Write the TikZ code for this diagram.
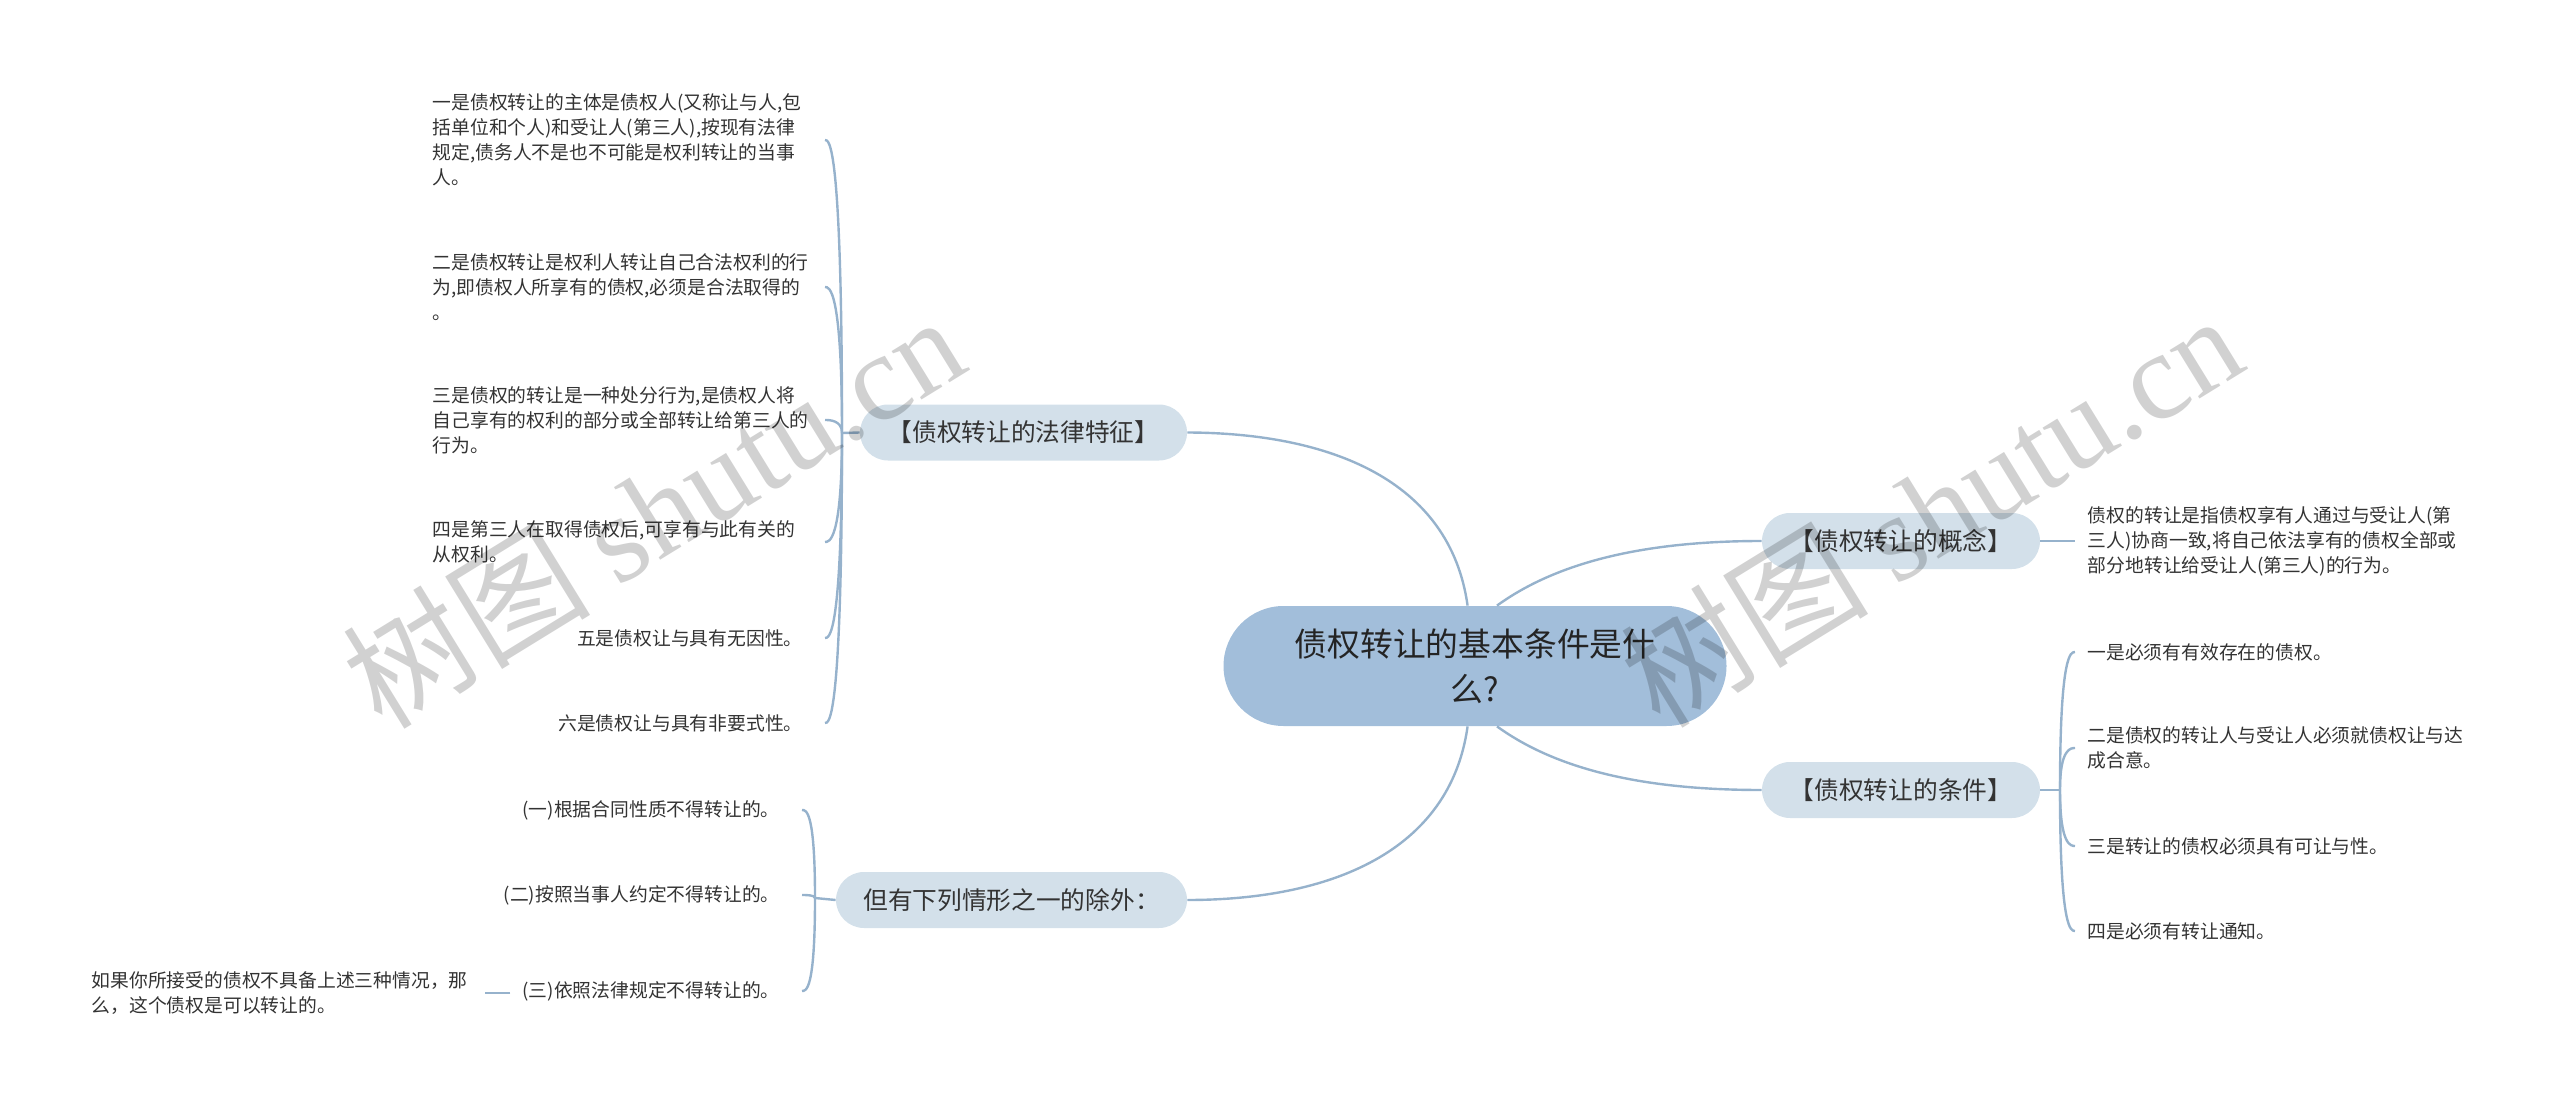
\documentclass[tikz,border=0pt]{standalone}
\usepackage{fontspec}
\setmainfont{Noto Sans CJK SC}
\newfontfamily\wmlatin{Liberation Serif}
\usepackage{tikz}
\usepackage{xcolor}
\usetikzlibrary{positioning}
\definecolor{RootFill}{HTML}{A2BEDA}
\definecolor{TopicFill}{HTML}{D3E0EA}
\definecolor{Link}{HTML}{96B2CC}
\definecolor{Ink}{HTML}{333333}
\tikzset{
  root/.style={fill=RootFill,rounded corners=30pt,minimum width=251.5pt,minimum height=60pt,inner sep=0pt,align=center,text=Ink!70!black,font=\fontsize{16.4pt}{22.5pt}\selectfont},
  topic/.style={fill=TopicFill,rounded corners=14pt,minimum height=28pt,inner sep=0pt,align=center,text=Ink,font=\fontsize{12.35pt}{15pt}\selectfont},
  leaf/.style={inner ysep=0pt,inner xsep=5pt,align=left,text=Ink,font=\fontsize{9.4pt}{12.5pt}\selectfont},
  link/.style={draw=Link,line width=1.2pt},
  wmark/.style={rotate=31.6,text=black,text opacity=0.18,inner sep=0pt,font=\fontsize{62pt}{62pt}\selectfont}
}

\begin{document}
\begin{tikzpicture}[x=0.5pt,y=-0.5pt]
  \useasboundingbox (0,0) rectangle (2560,1107);
  % main nodes
  \node[root] (root) at (1475,666) {债权转让的基本条件是什\\么?};
  \node[topic,minimum width=163.5pt] (law) at (1023.5,432.5) {【债权转让的法律特征】};
  \node[topic,minimum width=139pt] (concept) at (1901,541) {【债权转让的概念】};
  \node[topic,minimum width=139pt] (cond) at (1901,790) {【债权转让的条件】};
  \node[topic,minimum width=175.5pt] (except) at (1011.5,900) {但有下列情形之一的除外：};
  \draw[link] (root.97) .. controls (1450,480) and (1330,433) .. (law.east);
  \draw[link] (root.70) .. controls (1560,560) and (1650,541) .. (concept.west);
  \draw[link] (root.-70) .. controls (1560,772) and (1650,790) .. (cond.west);
  \draw[link] (root.-97) .. controls (1450,852) and (1330,900) .. (except.east);

  % legal features
  \node[leaf,text width=191pt,anchor=east] (l1) at (825,140) {一是债权转让的主体是债权人(又称让与人,包\\括单位和个人)和受让人(第三人),按现有法律\\规定,债务人不是也不可能是权利转让的当事\\人。};
  \node[leaf,text width=191pt,anchor=east] (l2) at (825,287) {二是债权转让是权利人转让自己合法权利的行\\为,即债权人所享有的债权,必须是合法取得的\\。};
  \node[leaf,text width=191pt,anchor=east] (l3) at (825,420) {三是债权的转让是一种处分行为,是债权人将\\自己享有的权利的部分或全部转让给第三人的\\行为。};
  \node[leaf,text width=191pt,anchor=east] (l4) at (825,542) {四是第三人在取得债权后,可享有与此有关的\\从权利。};
  \node[leaf,inner xsep=11pt,anchor=east] (l5) at (825,638) {五是债权让与具有无因性。};
  \node[leaf,inner xsep=11pt,anchor=east] (l6) at (825,723) {六是债权让与具有非要式性。};
  \coordinate (lawhub) at (842,433);
  \draw[link] (law.west) -- (lawhub);
  \foreach \n in {l1,l2,l3,l4,l5,l6}
    \draw[link] (lawhub) .. controls (lawhub |- \n.east) and ([xshift=2pt]\n.east) .. (\n.east);

  % concept
  \node[leaf,inner xsep=6pt,right=17.5pt of concept] (cdef) {债权的转让是指债权享有人通过与受让人(第\\三人)协商一致,将自己依法享有的债权全部或\\部分地转让给受让人(第三人)的行为。};
  \draw[link] (concept.east) -- (cdef.west);

  % conditions
  \node[leaf,inner xsep=6pt,anchor=west] (k1) at (2075,652) {一是必须有有效存在的债权。};
  \node[leaf,inner xsep=6pt,anchor=west] (k2) at (2075,748) {二是债权的转让人与受让人必须就债权让与达\\成合意。};
  \node[leaf,inner xsep=6pt,anchor=west] (k3) at (2075,846) {三是转让的债权必须具有可让与性。};
  \node[leaf,inner xsep=6pt,anchor=west] (k4) at (2075,931) {四是必须有转让通知。};
  \coordinate (condhub) at (2060,790);
  \draw[link] (cond.east) -- (condhub);
  \foreach \n in {k1,k2,k3,k4}
    \draw[link] (condhub) .. controls (condhub |- \n.west) and ([xshift=-2pt]\n.west) .. (\n.west);

  % exceptions
  \node[leaf,inner xsep=11pt,anchor=east] (e1) at (802,810) {(一)根据合同性质不得转让的。};
  \node[leaf,inner xsep=11pt,anchor=east] (e2) at (802,895) {(二)按照当事人约定不得转让的。};
  \node[leaf,inner xsep=11pt,anchor=east] (e3) at (802,991) {(三)依照法律规定不得转让的。};
  \node[leaf,text width=191.5pt,anchor=east] (note) at (485,993) {如果你所接受的债权不具备上述三种情况，那\\么，这个债权是可以转让的。};
  \coordinate (excepthub) at (815,898);
  \draw[link] (except.west) -- (excepthub);
  \foreach \n in {e1,e2,e3}
    \draw[link] (excepthub) .. controls (excepthub |- \n.east) and ([xshift=2pt]\n.east) .. (\n.east);
  \coordinate (e3in) at (note.east -| e3.text);
  \draw[link,shorten <=6pt] (e3in) -- (note.east);

  % watermarks
  \node[wmark] (wm1) at (653,510) {树图 {\wmlatin shutu.cn}};
  \node[wmark] (wm2) at (1931,509) {树图 {\wmlatin shutu.cn}};
\end{tikzpicture}
\end{document}
